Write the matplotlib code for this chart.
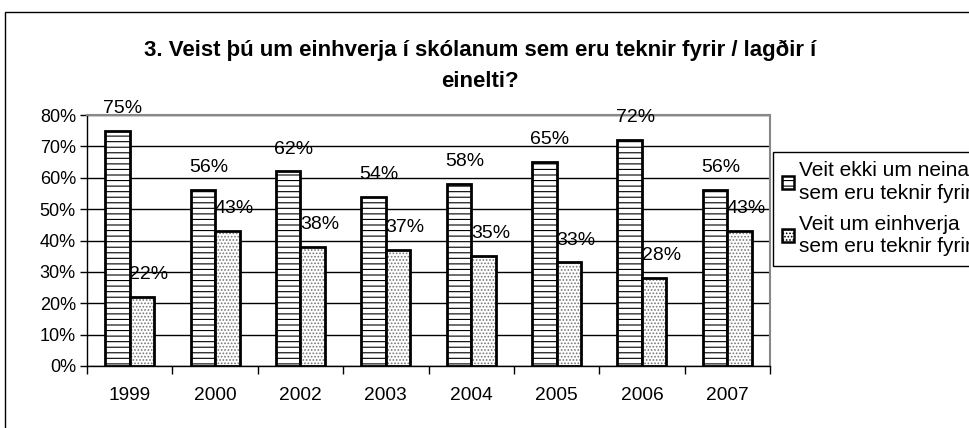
import matplotlib.pyplot as plt
import numpy as np
from matplotlib.patches import Patch, Rectangle

plt.rcParams['font.family'] = ['Liberation Sans', 'DejaVu Sans']
plt.rcParams['hatch.linewidth'] = 0.8

years = ['1999', '2000', '2002', '2003', '2004', '2005', '2006', '2007']
veit_ekki = [75, 56, 62, 54, 58, 65, 72, 56]
veit_um = [22, 43, 38, 37, 35, 33, 28, 43]
labels = ['Veit ekki um neina\nsem eru teknir fyrir',
          'Veit um einhverja\nsem eru teknir fyrir']
title = '3. Veist þú um einhverja í skólanum sem eru teknir fyrir / lagðir í\neinelti?'

fig = plt.figure(figsize=(9.69, 4.28), dpi=100)
ax = fig.add_axes([87/969, 1-366/428, (770-87)/969, (366-115)/428])

# outer frame of the chart area (cut off at right and bottom)
fig.patches.append(Rectangle((5/969, -0.5), 2, 1.5 - 12/428, transform=fig.transFigure,
                             fill=False, edgecolor='black', linewidth=1.0))

x = np.arange(len(years))
w = 0.287
lw = 2.0

ax.bar(x - w/2, veit_ekki, w, facecolor='white', edgecolor='black', hatch='---', linewidth=lw, zorder=3)
ax.bar(x + w/2, veit_um, w, facecolor='white', edgecolor='#777777', hatch='.....', linewidth=0, zorder=3)
ax.bar(x + w/2, veit_um, w, fill=False, edgecolor='black', linewidth=lw, zorder=4)

for xi, v in zip(x, veit_ekki):
    ax.annotate(f'{v}%', (xi - w/2, v), xytext=(4, 10), textcoords='offset points',
                ha='center', va='bottom', fontsize=14)
for xi, v in zip(x, veit_um):
    ax.annotate(f'{v}%', (xi + w/2, v), xytext=(5, 10), textcoords='offset points',
                ha='center', va='bottom', fontsize=14)

ax.set_xlim(-0.5, len(years) - 0.5)
ax.set_ylim(0, 80)
ax.set_yticks(range(0, 81, 10))
ax.set_yticklabels([f'{t}%' for t in range(0, 81, 10)], fontsize=13)
ax.yaxis.grid(True, color='black', linewidth=1.0, zorder=0)
ax.set_axisbelow(True)

ax.set_xticks(np.arange(-0.5, len(years)), minor=False)
ax.set_xticklabels([])
ax.set_xticks(x, minor=True)
ax.set_xticklabels(years, minor=True, fontsize=13.8)
ax.tick_params(axis='x', which='major', length=6, width=1, direction='out')
ax.tick_params(axis='x', which='minor', length=0, pad=15)
ax.tick_params(axis='y', length=5, width=1, pad=3)

ax.spines['top'].set_color('#888888')
ax.spines['right'].set_color('#888888')
ax.spines['top'].set_linewidth(1.5)
ax.spines['right'].set_linewidth(1.5)
ax.spines['left'].set_linewidth(1.0)
ax.spines['bottom'].set_linewidth(1.0)

fig.text(480/969, 1-40/428, title, ha='center', va='top', fontsize=16,
         fontweight='bold', linespacing=1.6)

handles = [Patch(facecolor='white', edgecolor='black', hatch='---', linewidth=1.8),
           Patch(facecolor='white', edgecolor='black', hatch='.....', linewidth=1.8)]
leg = fig.legend(handles, labels, loc='upper left', bbox_to_anchor=(773/969, 1-152/428),
                 borderaxespad=0, fancybox=False, framealpha=1, edgecolor='black',
                 fontsize=15, handlelength=0.55, handleheight=0.55, handletextpad=0.25,
                 borderpad=0.45, labelspacing=0.55)
leg.get_frame().set_linewidth(1.0)
for t in leg.get_texts():
    t.set_linespacing(1.25)

fig.savefig('out.png', dpi=100)
